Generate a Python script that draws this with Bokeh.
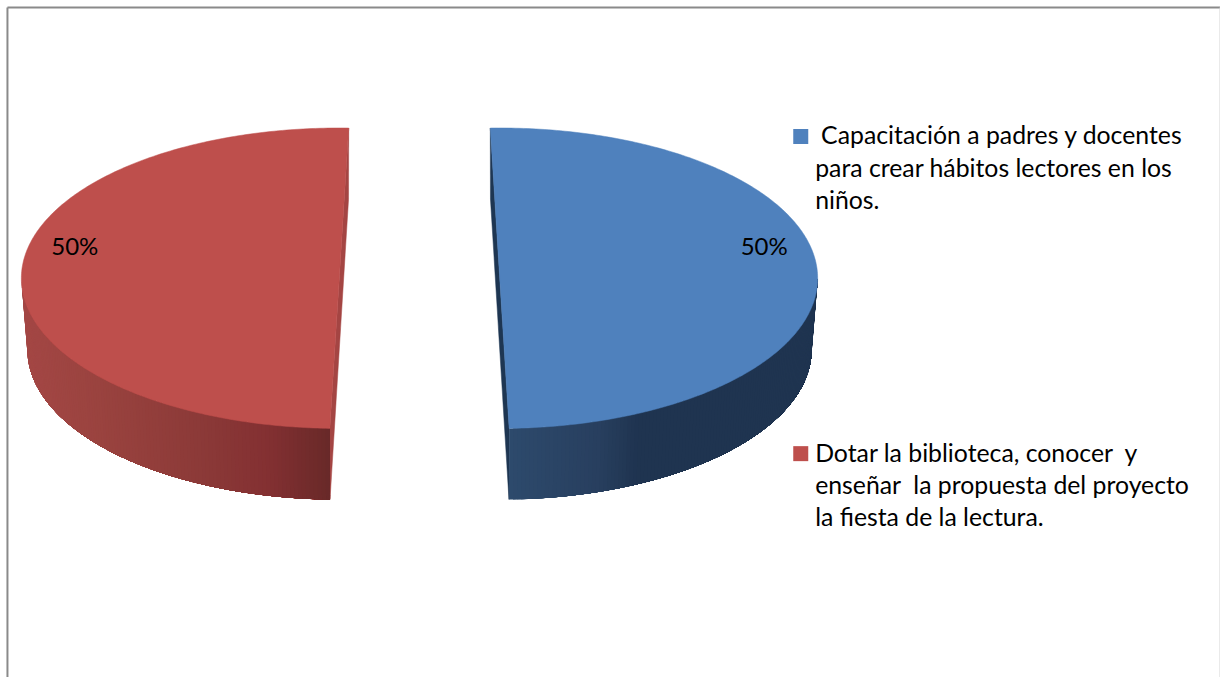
import numpy as np
from bokeh.plotting import figure
from bokeh.models import Range1d
from bokeh.core.properties import value
from bokeh.embed import file_html
from bokeh.resources import INLINE

# ---- data ----
categories = [
    ["Capacitación a padres y docentes", "para crear hábitos lectores en los", "niños."],
    ["Dotar la biblioteca, conocer\u00a0 y", "enseñar\u00a0 la propuesta del proyecto", "la fiesta de la lectura."],
]
percent_values = [50, 50]
top_colors = ["#4F81BD", "#BE4F4C"]
cut_colors = ["#1E3652", "#A44543"]
wall_stops = [
    ([512, 600, 640, 822], ["#2D4A6C", "#283F5F", "#1F3450", "#1F3450"]),
    ([25, 100, 200, 270, 333], ["#A44745", "#9A433F", "#8C3A38", "#833032", "#682928"]),
]

# ---- pie geometry, in the reference's pixel coordinates ----
PIE_CX, PIE_CY = 421.75, 281.0
EXPLODE = 80.75
RX_TOP, RX_BOTTOM, RY = 320.0, 314.0, 152.0
DEPTH = 72.0
TWIST = 1.7   # perspective tilts each half's cut edge
TEXT_DY = -9  # the svg backend draws alphabetic text below its anchor


def hex2rgb(c):
    return np.array([int(c[i:i + 2], 16) for i in (1, 3, 5)], dtype=float)


def wall_color(stops, x):
    xs, cols = stops
    rgb = np.array([hex2rgb(c) for c in cols])
    v = [np.interp(x, xs, rgb[:, k]) for k in range(3)]
    return "#%02x%02x%02x" % tuple(int(round(a)) for a in v)


# the 1228x685 reference is mapped onto the 1220x677 area inside the page margin
p = figure(width=1220, height=677, x_range=Range1d(0, 1228), y_range=Range1d(685, 0),
           output_backend="svg", toolbar_location=None, min_border=0,
           background_fill_color="white", border_fill_color="white")
p.axis.visible = False
p.grid.visible = False
p.outline_line_color = None

# frame
p.segment([7], [7], [7], [685], line_color="#8a8a8a", line_width=2)
p.segment([7], [7], [1228], [7], line_color="#8a8a8a", line_width=2)
p.segment([1227.5], [7], [1227.5], [685], line_color="#d4d4d4", line_width=1)

total = sum(percent_values)
cum = 0.0
for i, val in enumerate(percent_values):
    span = val / total * 360.0
    nominal = -90.0 + cum
    mid = np.radians(nominal + span / 2)
    cx = PIE_CX + EXPLODE * np.cos(mid)
    cy = PIE_CY
    twist = -TWIST if np.cos(mid) > 0 else TWIST
    t0, t1 = nominal + twist, nominal + twist + span
    cum += span

    def top(t):
        return cx + RX_TOP * np.cos(np.radians(t)), cy + RY * np.sin(np.radians(t))

    def bot(t):
        return cx + RX_BOTTOM * np.cos(np.radians(t)), cy + DEPTH + RY * np.sin(np.radians(t))

    # cut face
    tb, bb = top(t0 if i == 0 else t1), bot(t0 if i == 0 else t1)
    tf, bf = top(t1 if i == 0 else t0), bot(t1 if i == 0 else t0)
    p.patch([tb[0], bb[0], bf[0], tf[0]], [tb[1], bb[1], bf[1], tf[1]],
            fill_color=cut_colors[i], line_color=cut_colors[i], line_width=0.5)

    # front wall: shaded bands painted over one another so no seams show
    lo, hi = max(t0, 0.0), min(t1, 180.0)
    edges = np.linspace(lo, hi, 121)
    order = [(lo, b) for b in edges[:0:-1]]
    mids = (edges[:0:-1] + edges[-2::-1]) / 2
    xs, ys, cs = [], [], []
    for (a, b), m in zip(order, mids):
        arc = np.linspace(a, b, 90)
        tx, ty = top(arc)
        bx, by = bot(arc)
        xs.append(np.r_[tx, bx[::-1]].tolist())
        ys.append(np.r_[ty, by[::-1]].tolist())
        cs.append(wall_color(wall_stops[i], float(bot(m)[0])))
    p.patches(xs, ys, fill_color=cs, line_color=None)

    # top surface
    arc = np.linspace(t0, t1, 241)
    tx, ty = top(arc)
    p.patch(tx.tolist(), ty.tolist(), fill_color=top_colors[i], line_color=top_colors[i], line_width=0.5)

    # percent label
    lx = cx + 0.832 * RX_TOP * np.cos(mid)
    p.text([lx], [257 + TEXT_DY], text=[f"{val / total:.0%}"], text_font=value("Lato"), text_font_size="24px",
           text_align="center", text_baseline="alphabetic", text_color="#000000")

# legend
key_x = 805.5
key_y = [137.5, 458.5]
text_x = [[826, 820, 820], [820, 820, 820]]
text_y = [[145, 178, 210], [466, 499, 531]]
for i, lines in enumerate(categories):
    p.scatter([key_x], [key_y[i]], marker="square", size=15, fill_color=top_colors[i], line_color=None)
    p.text(text_x[i], [y + TEXT_DY for y in text_y[i]], text=lines, text_font=value("Lato"),
           text_font_size="24.8px", text_align="left", text_baseline="alphabetic", text_color="#000000")

open("out.html", "w").write(file_html(p, INLINE))
